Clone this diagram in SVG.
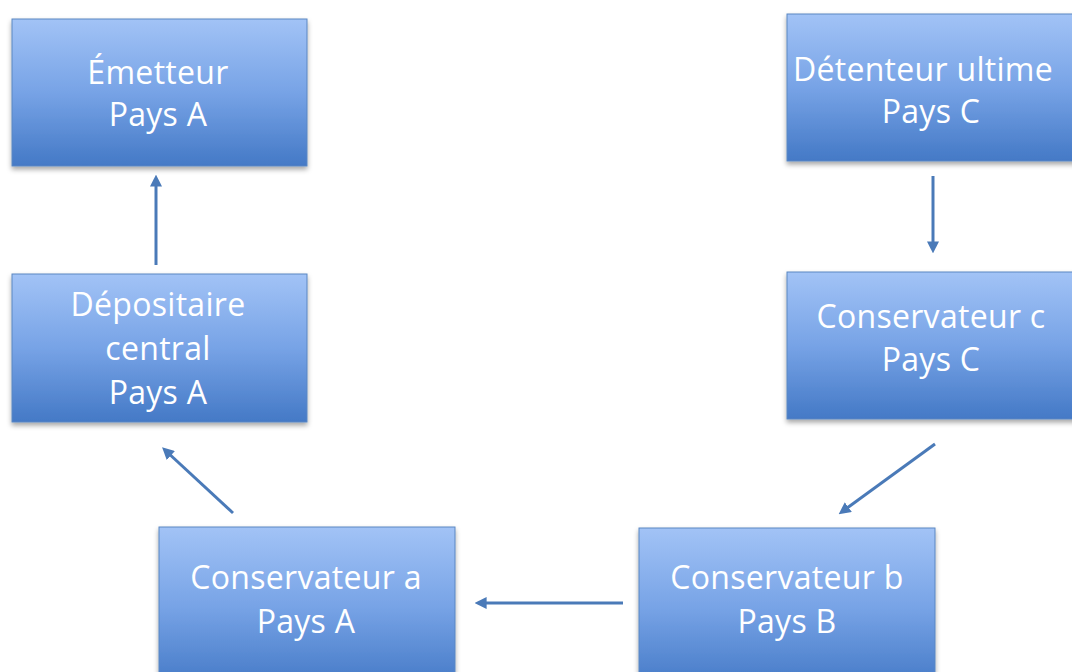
<svg xmlns="http://www.w3.org/2000/svg" width="1072" height="672" viewBox="0 0 1072 672">
<style>
.box{fill:url(#g);stroke:#5b87c2;stroke-width:1;filter:url(#sh)}
.t{font-family:"Open Sans","Liberation Sans",sans-serif;font-size:32px;fill:#ffffff;text-anchor:middle;letter-spacing:0.3px}
.c{stroke:#4a7ab8;stroke-width:3;fill:none;marker-end:url(#ah)}
</style>
<defs>
<linearGradient id="g" x1="0" y1="0" x2="0" y2="1">
<stop offset="0" stop-color="#a2c3f6"/>
<stop offset="0.5" stop-color="#77a3e6"/>
<stop offset="1" stop-color="#4479c6"/>
</linearGradient>
<filter id="sh" x="-5%" y="-5%" width="110%" height="115%">
<feDropShadow dx="0" dy="3" stdDeviation="2.5" flood-color="#000" flood-opacity="0.35"/>
</filter>
<marker id="ah" markerWidth="4" markerHeight="4" refX="2.2" refY="2" orient="auto" markerUnits="strokeWidth">
<path d="M0,0 L4,2 L0,4 Z" fill="#4a7ab8"/>
</marker>
</defs>
<g id="connectors">
<line class="c" x1="156" y1="265" x2="156" y2="180"/>
<line class="c" x1="233" y1="513" x2="166" y2="451"/>
<line class="c" x1="933" y1="176" x2="933" y2="248"/>
<line class="c" x1="935" y1="444" x2="843" y2="511"/>
<line class="c" x1="623" y1="603" x2="480" y2="603"/>
</g>
<g id="emetteur">
<rect class="box" x="12" y="19" width="295" height="147"/>
<text class="t" x="158" y="84">Émetteur</text>
<text class="t" x="158" y="126">Pays A</text>
</g>
<g id="detenteur">
<rect class="box" x="787" y="14" width="295" height="147"/>
<text class="t" x="923" y="81">Détenteur ultime</text>
<text class="t" x="931" y="123">Pays C</text>
</g>
<g id="depositaire">
<rect class="box" x="12" y="274" width="295" height="148"/>
<text class="t" x="158" y="316">Dépositaire</text>
<text class="t" x="158" y="360">central</text>
<text class="t" x="158" y="404">Pays A</text>
</g>
<g id="conservateur-c">
<rect class="box" x="787" y="272" width="295" height="147"/>
<text class="t" x="931" y="328">Conservateur c</text>
<text class="t" x="931" y="371">Pays C</text>
</g>
<g id="conservateur-a">
<rect class="box" x="159" y="527" width="296" height="160"/>
<text class="t" x="306" y="589">Conservateur a</text>
<text class="t" x="306" y="633">Pays A</text>
</g>
<g id="conservateur-b">
<rect class="box" x="639" y="528" width="296" height="160"/>
<text class="t" x="787" y="589">Conservateur b</text>
<text class="t" x="787" y="633">Pays B</text>
</g>
</svg>
